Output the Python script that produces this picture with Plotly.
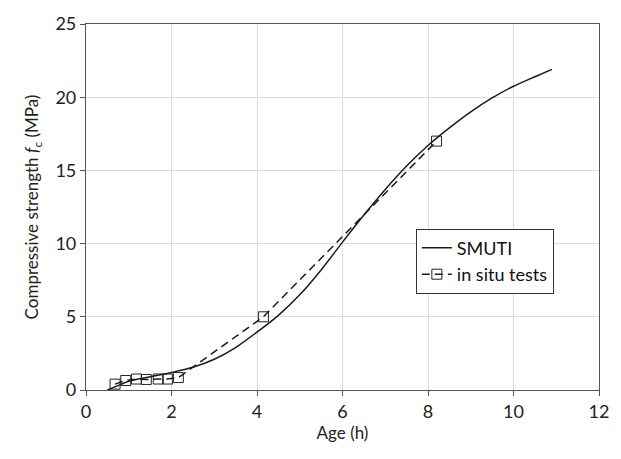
import plotly.graph_objects as go

# SMUTI model curve: age (h) vs compressive strength (MPa)
smuti_age = [0.5, 0.75, 1.0, 1.5, 2.0, 2.5, 3.0, 3.5, 4.0, 4.5, 5.0, 5.5, 6.0,
             6.5, 7.0, 7.5, 8.0, 8.5, 9.0, 9.5, 10.0, 10.5, 10.9]
smuti_fc = [0.0, 0.3, 0.6, 0.9, 1.2, 1.55, 2.1, 2.9, 3.95, 5.1, 6.5, 8.2, 10.1,
            11.95, 13.7, 15.3, 16.7, 17.9, 19.0, 19.95, 20.75, 21.4, 21.9]

# In situ test results
test_age = [0.68, 0.93, 1.18, 1.41, 1.69, 1.91, 2.16, 4.15, 8.2]
test_fc = [0.4, 0.65, 0.75, 0.72, 0.75, 0.75, 0.85, 5.0, 17.0]

x_ticks = [0, 2, 4, 6, 8, 10, 12]
y_ticks = [0, 5, 10, 15, 20, 25]

font = "Lato, 'Open Sans', sans-serif"

fig = go.Figure()
fig.add_trace(go.Scatter(
    x=smuti_age, y=smuti_fc, mode="lines", name="SMUTI",
    line=dict(color="#1a1a1a", width=1.5, shape="spline", smoothing=0.7),
))
fig.add_trace(go.Scatter(
    x=test_age, y=test_fc, mode="lines+markers", name="in situ tests",
    line=dict(color="#1a1a1a", width=1.5, dash="8px,5px"),
    marker=dict(symbol="square-open", size=10, color="#222222",
                line=dict(width=1)),
))

axis_common = dict(
    showline=True, linecolor="#555555", linewidth=1.2, mirror=True,
    showgrid=True, gridcolor="#dcdcdc", gridwidth=1,
    ticks="outside", ticklen=5, tickcolor="#555555",
    zeroline=False, tickfont=dict(size=18, color="#222222", family=font),
)

fig.update_xaxes(
    range=[0, 12], tickvals=x_ticks, ticktext=[str(v) for v in x_ticks],
    title=dict(text="Age (h)", font=dict(size=17, color="#222222", family=font),
               standoff=4),
    **axis_common,
)
fig.update_yaxes(
    range=[0, 25], tickvals=y_ticks, ticktext=[str(v) for v in y_ticks],
    title=dict(text="Compressive strength <i>f</i><sub>c</sub> (MPa)",
               font=dict(size=17, color="#222222", family=font), standoff=12),
    **axis_common,
)

fig.update_layout(
    width=621, height=459,
    margin=dict(l=86, r=13, t=23, b=69),
    paper_bgcolor="white", plot_bgcolor="white",
    font=dict(family=font, color="#222222"),
    legend=dict(
        x=0.643, y=0.441, xanchor="left", yanchor="top",
        bordercolor="#333333", borderwidth=1, bgcolor="white",
        font=dict(size=18, family=font, color="#111111"),
        itemwidth=30, tracegroupgap=4,
    ),
    showlegend=True,
)

fig.write_html("out.html")
